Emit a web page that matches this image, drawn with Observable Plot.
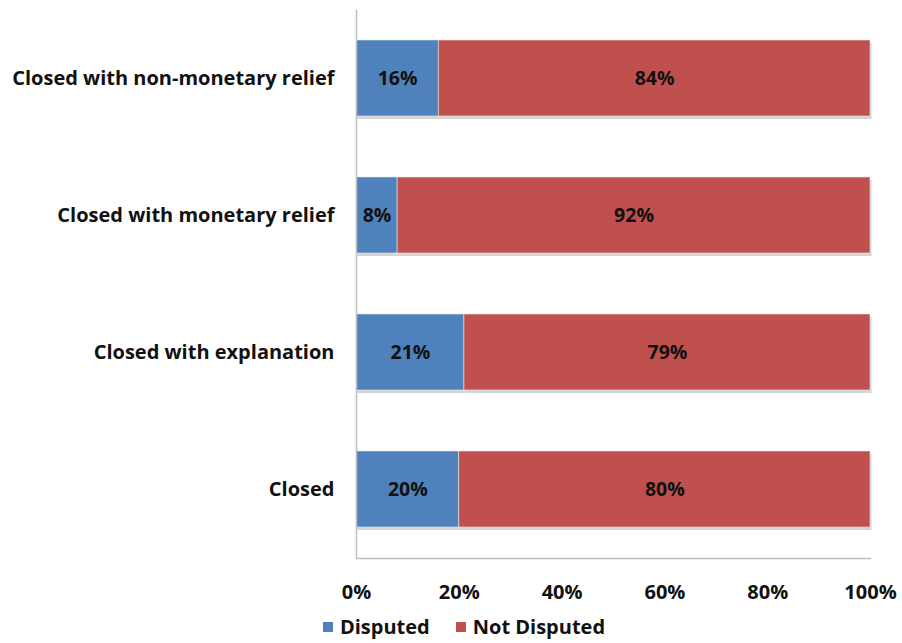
<!DOCTYPE html>
<html><head>
<meta charset="utf-8">
<script src="https://cdn.jsdelivr.net/npm/d3@7"></script>
<script src="https://cdn.jsdelivr.net/npm/@observablehq/plot@0.6"></script>
<style>
body{margin:0;background:#fff;font-family:"Open Sans",sans-serif;}
#legend{display:flex;justify-content:center;align-items:center;font-weight:bold;font-size:20px;color:#111;margin-left:26px;margin-top:10px;line-height:24px;}
.item{display:flex;align-items:center;margin:0 13px;}
.sw{width:10px;height:10px;display:inline-block;margin-right:7px;}
</style>
</head><body>
<div id="chart"></div>
<div id="legend"></div>
<script>
const categories = ["Closed with non-monetary relief","Closed with monetary relief","Closed with explanation","Closed"];
const disputed = [16,8,21,20];
const notDisputed = [84,92,79,80];
const seriesNames = ["Disputed","Not Disputed"];
const seriesColors = ["#4F81BD","#C0504D"];
const xTicks = [0,20,40,60,80,100];

const data = [];
categories.forEach((c,i)=>{
  data.push({category:c, series:seriesNames[0], value:disputed[i]});
  data.push({category:c, series:seriesNames[1], value:notDisputed[i]});
});

const chart = Plot.plot({
  width: 902, height: 605,
  marginLeft: 356, marginRight: 32, marginTop: 10, marginBottom: 47,
  style: {fontFamily: "'Open Sans', sans-serif", background: "#fff"},
  x: {domain:[0,100], ticks: xTicks, tickFormat: d => d + "%"},
  y: {domain: categories, paddingInner: 0.445, paddingOuter: 0.2225, label: null},
  color: {domain: seriesNames, range: seriesColors},
  marks: [
    Plot.barX(data, Plot.stackX({x:"value", y:"category", z:"series", fill:"#d4d4d4", dx:1.5, dy:3})),
    Plot.barX(data, Plot.stackX({x:"value", y:"category", fill:"series", stroke:"#e8e8e8", strokeWidth:0.6})),
    Plot.text(data, Plot.stackX({x:"value", y:"category", z:"series", text: d => d.value + "%", fill:"#111", fontWeight:"bold", fontSize:19.5})),
    Plot.ruleX([0], {stroke:"#bdbdbd", strokeWidth:1.5}),
    Plot.frame({anchor:"bottom", stroke:"#bdbdbd", strokeWidth:1.5}),
    Plot.axisX({ticks: xTicks, tickFormat: d => d + "%", tickSize:0, tickPadding:26, fontSize:20, fontWeight:"bold", fill:"#111", label:null}),
    Plot.axisY({tickSize:0, tickPadding:22, fontSize:20, fontWeight:"bold", fill:"#111", label:null})
  ]
});
document.getElementById("chart").appendChild(chart);

const legend = document.getElementById("legend");
seriesNames.forEach((s,i)=>{
  const it = document.createElement("div"); it.className="item";
  const sw = document.createElement("span"); sw.className="sw"; sw.style.background=seriesColors[i];
  const t = document.createElement("span"); t.textContent = s;
  it.appendChild(sw); it.appendChild(t); legend.appendChild(it);
});
</script>
</body></html>
